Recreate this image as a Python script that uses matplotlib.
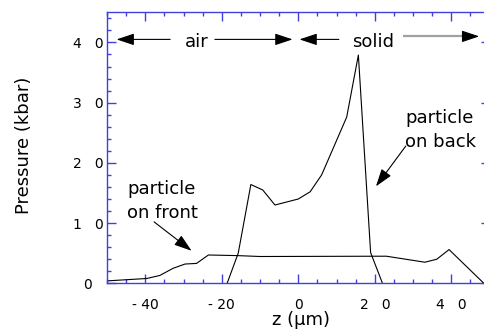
import matplotlib
matplotlib.use("Agg")
import matplotlib.pyplot as plt
from matplotlib.ticker import MultipleLocator

# ---- data ----
front_z = [-50.0, -39.6, -36.2, -32.7, -29.6, -26.6, -23.5, -16.0, -10.0, 23.0, 33.1, 36.2, 39.4, 48.5]
front_p = [0.4, 0.8, 1.3, 2.5, 3.2, 3.3, 4.7, 4.6, 4.45, 4.5, 3.5, 4.0, 5.6, 0.0]

back_z = [-18.6, -15.7, -12.4, -9.3, -6.1, 0.0, 3.1, 6.1, 12.65, 15.7, 18.9, 22.0]
back_p = [0.0, 5.0, 16.4, 15.5, 13.0, 14.0, 15.2, 18.0, 27.6, 37.9, 5.1, 0.0]

xticks = [-40, -20, 0, 20, 40]
xtick_labels = ["- 40", "- 20", "0", "2   0", "4   0"]
yticks = [0, 10, 20, 30, 40]
ytick_labels = ["0", "1   0", "2   0", "3   0", "4   0"]

BLUE = "#4040e0"
FONT = "DejaVu Sans"

fig = plt.figure(figsize=(4.84, 3.31), dpi=100)
ax = fig.add_axes([107 / 484, 47.7 / 331, 382.6 / 484, 271 / 331])

ax.plot(front_z, front_p, color="black", lw=0.8)
ax.plot(back_z, back_p, color="black", lw=0.8)

ax.set_xlim(-50, 50)
ax.set_ylim(0, 45)

for s in ax.spines.values():
    s.set_color(BLUE)
    s.set_linewidth(1.0)

ax.set_xticks(xticks, xtick_labels, fontsize=10, family=FONT)
ax.set_yticks(yticks, ytick_labels, fontsize=10, family=FONT)
ax.xaxis.set_minor_locator(MultipleLocator(5))
ax.yaxis.set_minor_locator(MultipleLocator(2))
ax.tick_params(which="both", direction="in", top=True, right=True, color=BLUE, width=1.0)
ax.tick_params(which="major", length=6.5)
ax.tick_params(which="minor", length=3.2)
ax.tick_params(axis="x", which="major", pad=10.5)
ax.tick_params(axis="y", which="major", pad=13.7)
for lbl in ax.get_yticklabels():
    lbl.set_horizontalalignment("center")

fig.text(301.5 / 484, 1 - 320 / 331, "z (μm)", fontsize=13, family=FONT, ha="center", va="center")
fig.text(24 / 484, 1 - 145 / 331, "Pressure (kbar)", fontsize=13, family=FONT,
         ha="center", va="center", rotation=90)

arrow_kw = dict(arrowstyle="-|>,head_length=1.08,head_width=0.36", color="black",
                lw=0.8, shrinkA=0, shrinkB=0, mutation_scale=10)

# region arrows
ax.text(-26.6, 39.3, "air", fontsize=13, family=FONT, ha="center", va="baseline")
ax.annotate("", xy=(-47.5, 40.5), xytext=(-33.5, 40.5), arrowprops=arrow_kw)
ax.annotate("", xy=(-1.5, 40.5), xytext=(-21.8, 40.5), arrowprops=arrow_kw)
ax.text(19.5, 39.3, "solid", fontsize=13, family=FONT, ha="center", va="baseline")
ax.annotate("", xy=(0.3, 40.5), xytext=(10.6, 40.5), arrowprops=arrow_kw)
# gray shaft with a black head
ax.plot([27.4, 44.0], [41.0, 41.0], color="#a0a0a0", lw=1.6, solid_capstyle="butt")
ax.annotate("", xy=(47.3, 41.0), xytext=(43.0, 41.0), arrowprops=arrow_kw, annotation_clip=False)

# particle annotations
ax.text(-44.7, 17.13, "particle\non front", fontsize=13, family=FONT, ha="left", va="top",
        linespacing=1.45)
ax.annotate("", xy=(-27.9, 5.4), xytext=(-37.7, 10.2), arrowprops=arrow_kw)
ax.text(27.9, 29.0, "particle\non back", fontsize=13, family=FONT, ha="left", va="top",
        linespacing=1.45)
ax.annotate("", xy=(20.3, 16.1), xytext=(28.1, 22.8), arrowprops=arrow_kw)

fig.savefig("out.png", dpi=100)
